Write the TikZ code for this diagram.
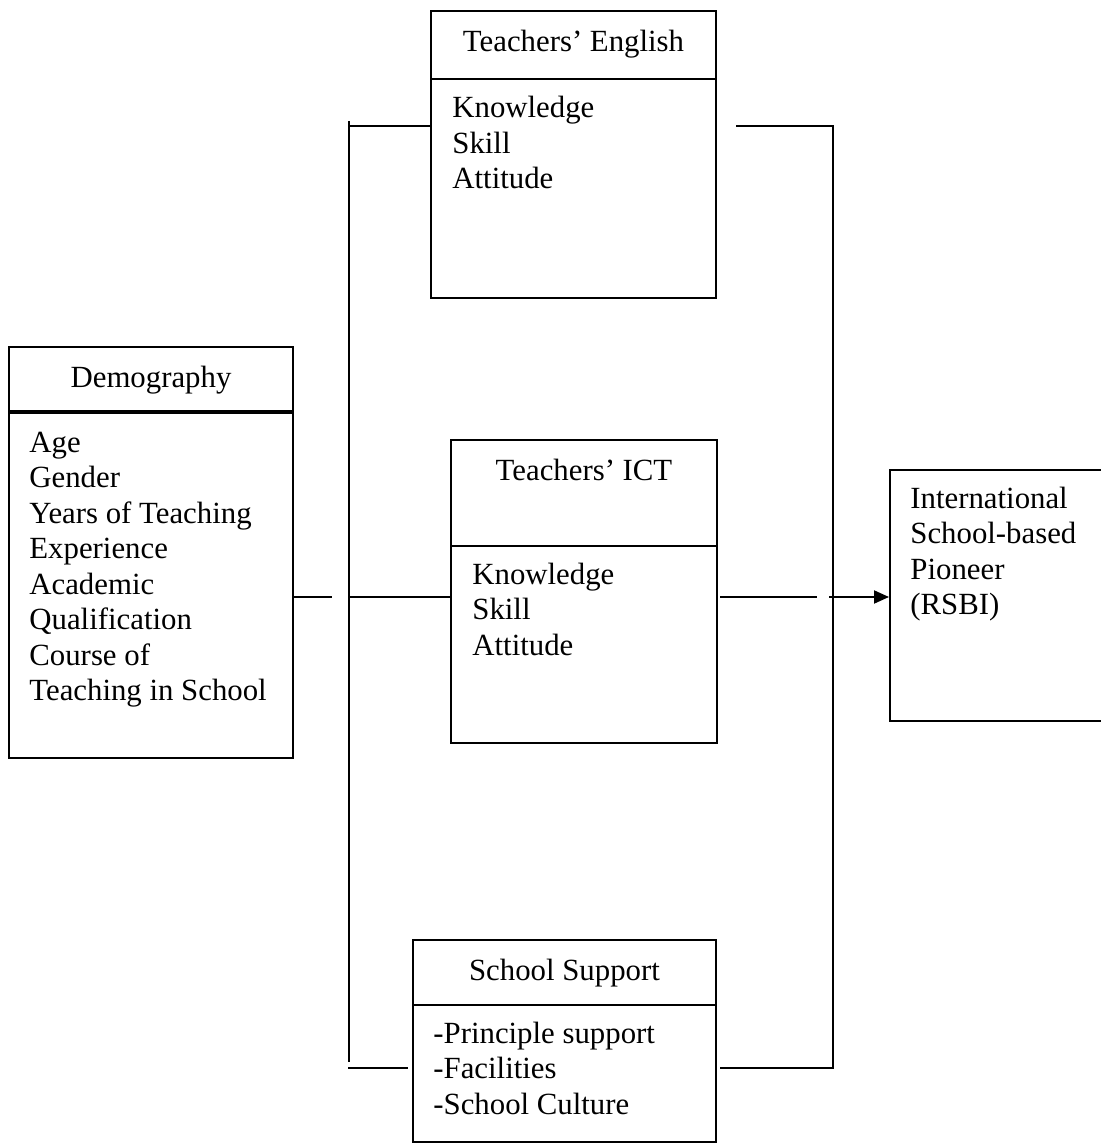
\documentclass[tikz,border=0pt]{standalone}
\usepackage{fontspec}
\setmainfont{Liberation Serif}
\usetikzlibrary{fit,arrows.meta}
\newcommand\diagfont{\fontsize{15.4pt}{17.75pt}\selectfont}
\begin{document}
\begin{tikzpicture}[x=0.5pt,y=-0.5pt,
  box/.style={draw, line width=1pt, inner sep=0pt, fit={#1}},
  txt/.style={font=\diagfont, inner sep=0pt},
  conn/.style={line width=1pt},
  arr/.style={line width=1pt, -{Triangle[length=7.5pt,width=6.5pt]}}]
\useasboundingbox (0,0) rectangle (1100,1144);
% boxes
\node[box={(431,11)(716,79)}] (engH) {};
\node[box={(431,79)(716,298)}] (engB) {};
\node[box={(9,347)(293,411)}] (demH) {};
\node[box={(9,413)(293,758)}] (demB) {};
\node[box={(451,440)(717,546)}] (ictH) {};
\node[box={(451,546)(717,743)}] (ictB) {};
\node[box={(413,940)(716,1005)}] (supH) {};
\node[box={(413,1005)(716,1142)}] (supB) {};
\node[box={(890,470)(1104,721)}] (outB) {};
% header texts
\node[txt, anchor=base] (engHt) at (573.5,52) {Teachers’ English};
\node[txt, anchor=base] (demHt) at (151,387) {Demography};
\node[txt, anchor=base] (ictHt) at (584,480) {Teachers’ ICT};
\node[txt, anchor=base] (supHt) at (564.5,980) {School Support};
% body texts
\node[txt, anchor=base west] (engBt) at (452,118) {\parbox[t]{150pt}{Knowledge\\Skill\\Attitude}};
\node[txt, anchor=base west] (demBt) at (29,452) {\parbox[t]{140pt}{Age\\Gender\\Years of Teaching\\Experience\\Academic\\Qualification\\Course of\\Teaching in School}};
\node[txt, anchor=base west] (ictBt) at (472,584) {\parbox[t]{120pt}{Knowledge\\Skill\\Attitude}};
\node[txt, anchor=base west] (supBt) at (433,1043) {\parbox[t]{140pt}{-Principle support\\-Facilities\\-School Culture}};
\node[txt, anchor=base west] (outBt) at (910,508) {\parbox[t]{100pt}{International\\School-based\\Pioneer\\(RSBI)}};
% connector coordinates
\coordinate (dStub) at (332,597);
\coordinate (vTop) at (349,121);
\coordinate (vBot) at (349,1062);
\coordinate (jE) at (349,126);
\coordinate (jI) at (349,597);
\coordinate (sL1) at (348,1068);
\coordinate (sL2) at (408,1068);
\coordinate (rE) at (736,126);
\coordinate (rC1) at (833,126);
\coordinate (rC2) at (833,1068);
\coordinate (rS) at (720,1068);
\coordinate (rI1) at (720,597);
\coordinate (rI2) at (817,597);
\coordinate (rI3) at (829,597);
% connectors
\draw[conn] (dStub -| demB.east) -- (dStub);
\draw[conn] (vTop) -- (vBot);
\draw[conn] (jE) -- (jE -| engB.west);
\draw[conn] (jI) -- (jI -| ictB.west);
\draw[conn] (sL1) -- (sL2);
\draw[conn] (rE) -- (rC1) -- (rC2) -- (rS);
\draw[conn] (rI1) -- (rI2);
\draw[arr] (rI3) -- (rI3 -| outB.west);
\end{tikzpicture}
\end{document}
